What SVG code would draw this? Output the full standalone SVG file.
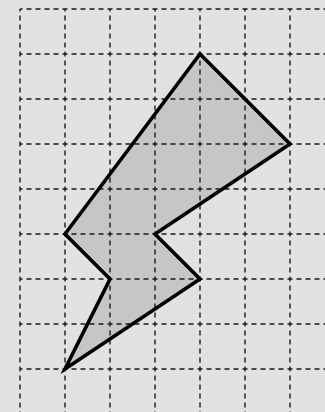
<svg xmlns="http://www.w3.org/2000/svg" width="325" height="412" viewBox="0 0 325 412">
  <style>
    .grid { stroke: #1a1a1a; stroke-width: 1.4; stroke-dasharray: 5 4; stroke-dashoffset: 2.5; fill: none; }
    .fill { fill: #c6c6c6; stroke: none; }
    .outline { fill: none; stroke: #000; stroke-width: 3.6; stroke-linejoin: miter; }
  </style>
  <defs>
    <filter id="tex" x="0" y="0" width="100%" height="100%">
      <feTurbulence type="fractalNoise" baseFrequency="0.9" numOctaves="2" seed="3" result="n"/>
      <feColorMatrix type="matrix" values="0 0 0 0 0.5  0 0 0 0 0.5  0 0 0 0 0.5  0 0 0 0.12 0" in="n"/>
    </filter>
  </defs>
  <rect width="325" height="412" fill="#e4e4e4"/>
  <rect width="325" height="412" filter="url(#tex)"/>
  <g id="bolt-fill">
    <polygon class="fill" points="200,54 290,144 155,234 200,279 65,369 110,279 65,234"/>
  </g>
  <g id="grid" class="grid">
    <path d="M20 9H325M20 54H325M20 99H325M20 144H325M20 189H325M20 234H325M20 279H325M20 324H325M20 369H325"/>
    <path d="M20 9V412M65 9V412M110 9V412M155 9V412M200 9V412M245 9V412M290 9V412"/>
  </g>
  <g id="bolt">
    <polygon class="outline" points="200,54 290,144 155,234 200,279 65,369 110,279 65,234"/>
  </g>
</svg>
